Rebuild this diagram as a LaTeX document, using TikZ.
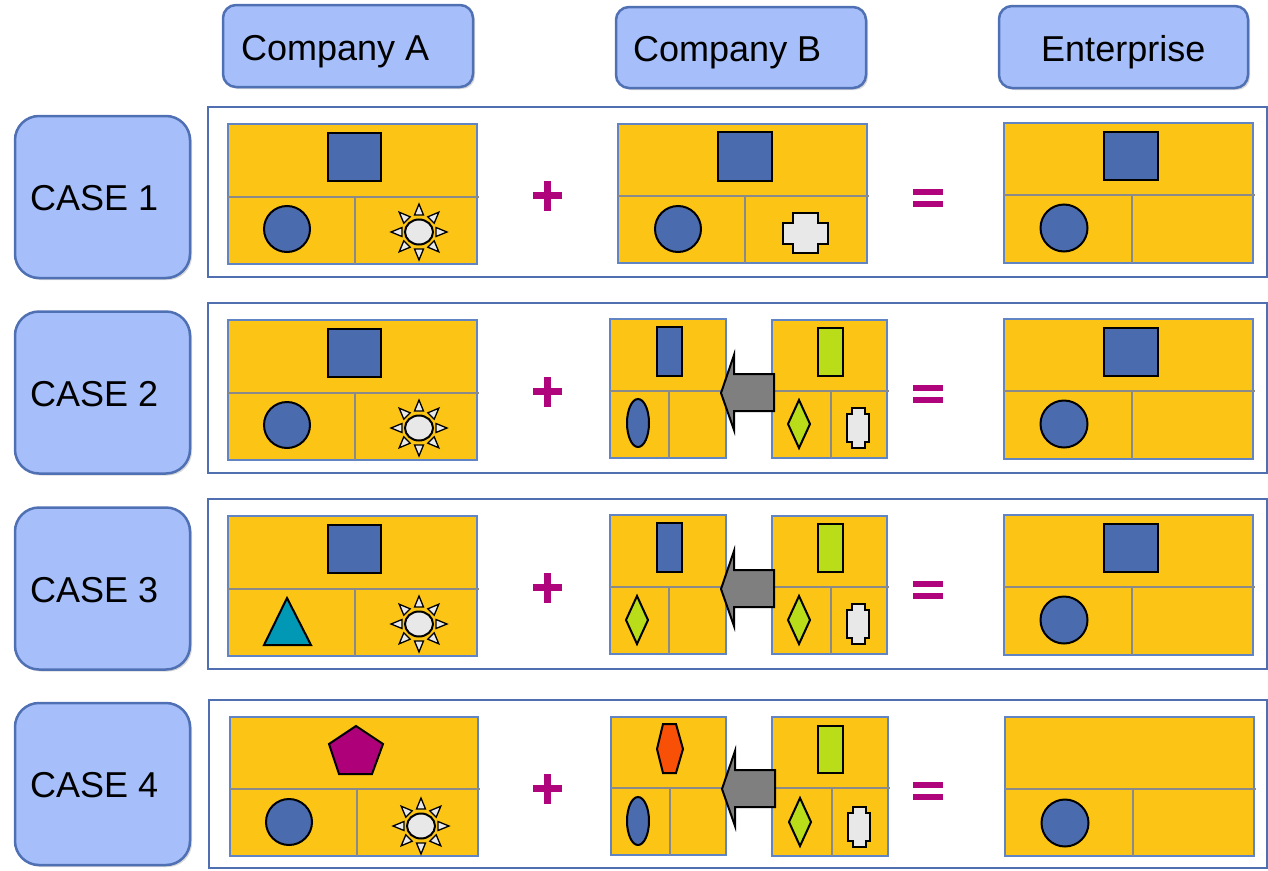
\documentclass[tikz,border=0pt]{standalone}
\usepackage{fontspec}
\setmainfont{Liberation Sans}
\usetikzlibrary{shadows}
\definecolor{hdrfill}{HTML}{A6BFFA}
\definecolor{hdrline}{HTML}{5070B4}
\definecolor{frameline}{HTML}{4F6FB0}
\definecolor{panelfill}{HTML}{FCC515}
\definecolor{panelline}{HTML}{6084C4}
\definecolor{divgray}{HTML}{8A8A8A}
\definecolor{shapeblue}{HTML}{4A6BAD}
\definecolor{shapegreen}{HTML}{BADD1A}
\definecolor{shapeteal}{HTML}{0098B4}
\definecolor{shapeorange}{HTML}{F85107}
\definecolor{shapemag}{HTML}{AE0078}
\definecolor{symmag}{HTML}{B0047C}
\definecolor{litegray}{HTML}{E8E8E8}
\definecolor{arrowgray}{HTML}{7F7F7F}
\newcommand{\mypanel}[6]{%
  \fill[panelfill] (#1,#2) rectangle (#3,#4);
  \draw[pborder] (#1,#2) rectangle (#3,#4);
  \draw[divl] (#1,#5) -- ({#3+2},#5);
  \draw[divl] (#6,#5) -- (#6,#4);
}
\tikzset{
  hdrbox/.style={draw=hdrline, line width=2.5pt, fill=hdrfill, rounded corners=13pt,
    drop shadow={shadow xshift=2pt, shadow yshift=-2pt, opacity=0.3}},
  casebox/.style={draw=hdrline, line width=2.5pt, fill=hdrfill, rounded corners=24pt,
    minimum width=175pt, minimum height=162pt,
    drop shadow={shadow xshift=2pt, shadow yshift=-2pt, opacity=0.3}},
  lbl/.style={font=\fontsize{36}{40}\selectfont, inner sep=0pt, anchor=base west},
  rowframe/.style={draw=frameline, line width=2.5pt},
  pborder/.style={draw=panelline, line width=2pt},
  divl/.style={draw=divgray, line width=2pt},
  shp/.style={draw=black, line width=2pt},
  symb/.style={fill=symmag},
  blockarrow/.style={draw=black, line width=2pt, fill=arrowgray},
  sunpic/.pic={
    \foreach \a in {0,45,...,315}{
      \draw[draw=black, line width=1.3pt, fill=litegray, rotate=\a] (17,-4.5) -- (28,0) -- (17,4.5) -- cycle;
    }
    \draw[draw=black, line width=2pt, fill=litegray] (0,0) ellipse (14pt and 12.5pt);
  },
  crosspic/.pic={
    \draw[shp, fill=litegray] (-12.5,-20) -- (12.5,-20) -- (12.5,-10.5) -- (22.5,-10.5) -- (22.5,10.5) -- (12.5,10.5) -- (12.5,20) -- (-12.5,20) -- (-12.5,10.5) -- (-22.5,10.5) -- (-22.5,-10.5) -- (-12.5,-10.5) -- cycle;
  },
  pillpic/.pic={
    \draw[shp, fill=litegray] (-6.5,-20) -- (6.5,-20) -- (6.5,-14) -- (11,-14) -- (11,14) -- (6.5,14) -- (6.5,20) -- (-6.5,20) -- (-6.5,14) -- (-11,14) -- (-11,-14) -- (-6.5,-14) -- cycle;
  },
  diapic/.pic={
    \draw[shp, fill=shapegreen] (0,-24) -- (11,0) -- (0,24) -- (-11,0) -- cycle;
  },
  plusequal/.pic={
    \fill[symb] (533,192) rectangle (562,199);
    \fill[symb] (544,181) rectangle (551,211);
    \fill[symb] (913,189) rectangle (943,195);
    \fill[symb] (913,201) rectangle (943,207);
  },
  larrow/.pic={
    \draw[blockarrow] (721,197) -- (734,159) -- (734,178) -- (774,178) -- (774,215) -- (734,215) -- (734,234) -- cycle;
  }
}
\begin{document}
\begin{tikzpicture}[x=1pt,y=-1pt]
\useasboundingbox (0,0) rectangle (1268,870);

% headers
\node[hdrbox, minimum width=250pt, minimum height=82pt] (hA) at (348,46) {};
\node[hdrbox, minimum width=250pt, minimum height=81pt] (hB) at (741,47.5) {};
\node[hdrbox, minimum width=249pt, minimum height=82pt] (hE) at (1123.5,47) {};
\node[lbl] (tA) at (241,60) {Company A};
\node[lbl] (tB) at (633,61) {Company B};
\node[lbl] (tE) at (1041,61) {Enterprise};

% row frames
\draw[rowframe] (208,107) rectangle (1267,277);
\draw[rowframe] (208,303) rectangle (1267,473);
\draw[rowframe] (208,499) rectangle (1267,669);
\draw[rowframe] (209,700) rectangle (1267,868);

% case boxes
\node[casebox] (c1) at (102.5,197) {};
\node[casebox] (c2) at (102.5,392.5) {};
\node[casebox] (c3) at (102.5,588.5) {};
\node[casebox] (c4) at (102.5,784) {};
\node[lbl] (l1) at (30,210) {CASE 1};
\node[lbl] (l2) at (30,406) {CASE 2};
\node[lbl] (l3) at (30,602) {CASE 3};
\node[lbl] (l4) at (30,797) {CASE 4};

% ---------- row 1 ----------
\begin{scope}
  \mypanel{228}{124}{477}{264}{197}{355}
  \draw[shp, fill=shapeblue] (328,133) rectangle (381,181);
  \draw[shp, fill=shapeblue] (287,229) circle (23pt);
  \pic at (419,232) {sunpic};
  \mypanel{618}{124}{867}{263}{196}{745}
  \draw[shp, fill=shapeblue] (718,132) rectangle (772,181);
  \draw[shp, fill=shapeblue] (678,229) circle (23pt);
  \pic at (805,233) {crosspic};
  \mypanel{1004}{123}{1253}{263}{195}{1132}
  \draw[shp, fill=shapeblue] (1104,132) rectangle (1158,180);
  \draw[shp, fill=shapeblue] (1064,228) circle (23.5pt);
  \pic at (0,0) {plusequal};
\end{scope}

% ---------- row 2 ----------
\begin{scope}[shift={(0,196)}]
  \mypanel{228}{124}{477}{264}{197}{355}
  \draw[shp, fill=shapeblue] (328,133) rectangle (381,181);
  \draw[shp, fill=shapeblue] (287,229) circle (23pt);
  \pic at (419,232) {sunpic};
  \mypanel{610}{123}{726}{262}{195}{669}
  \draw[shp, fill=shapeblue] (657,131) rectangle (682,180);
  \draw[shp, fill=shapeblue] (638,227) ellipse (11pt and 24pt);
  \mypanel{772}{124}{887}{262}{195}{831}
  \draw[shp, fill=shapegreen] (818,132) rectangle (843,180);
  \pic at (799,228) {diapic};
  \pic at (858,232) {pillpic};
  \pic at (0,0) {larrow};
  \mypanel{1004}{123}{1253}{263}{195}{1132}
  \draw[shp, fill=shapeblue] (1104,132) rectangle (1158,180);
  \draw[shp, fill=shapeblue] (1064,228) circle (23.5pt);
  \pic at (0,0) {plusequal};
\end{scope}

% ---------- row 3 ----------
\begin{scope}[shift={(0,392)}]
  \mypanel{228}{124}{477}{264}{197}{355}
  \draw[shp, fill=shapeblue] (328,133) rectangle (381,181);
  \draw[shp, fill=shapeteal] (264,253) -- (287,206) -- (311,253) -- cycle;
  \pic at (419,232) {sunpic};
  \mypanel{610}{123}{726}{262}{195}{669}
  \draw[shp, fill=shapeblue] (657,131) rectangle (682,180);
  \pic at (637,228) {diapic};
  \mypanel{772}{124}{887}{262}{195}{831}
  \draw[shp, fill=shapegreen] (818,132) rectangle (843,180);
  \pic at (799,228) {diapic};
  \pic at (858,232) {pillpic};
  \pic at (0,0) {larrow};
  \mypanel{1004}{123}{1253}{263}{195}{1132}
  \draw[shp, fill=shapeblue] (1104,132) rectangle (1158,180);
  \draw[shp, fill=shapeblue] (1064,228) circle (23.5pt);
  \pic at (0,0) {plusequal};
\end{scope}

% ---------- row 4 ----------
\begin{scope}[shift={(0,593)}]
  \mypanel{230}{124}{478}{263}{196}{357}
  \draw[shp, fill=shapemag] (356,133) -- (383,151) -- (372,181) -- (339,181) -- (329,151) -- cycle;
  \draw[shp, fill=shapeblue] (289,229) circle (23pt);
  \pic at (421,233) {sunpic};
  \mypanel{611}{124}{726}{262}{195}{670}
  \draw[shp, fill=shapeorange] (663,131) -- (676,131) -- (683,156) -- (676,180) -- (663,180) -- (657,156) -- cycle;
  \draw[shp, fill=shapeblue] (638,228) ellipse (11pt and 24pt);
  \mypanel{772}{124}{888}{263}{195}{832}
  \draw[shp, fill=shapegreen] (818,133) rectangle (843,180);
  \pic at (800,229) {diapic};
  \pic at (859,234) {pillpic};
  \pic at (1,-1) {larrow};
  \mypanel{1005}{124}{1254}{263}{196}{1133}
  \draw[shp, fill=shapeblue] (1065,230) circle (23.5pt);
  \pic at (0,0) {plusequal};
\end{scope}
\end{tikzpicture}
\end{document}
